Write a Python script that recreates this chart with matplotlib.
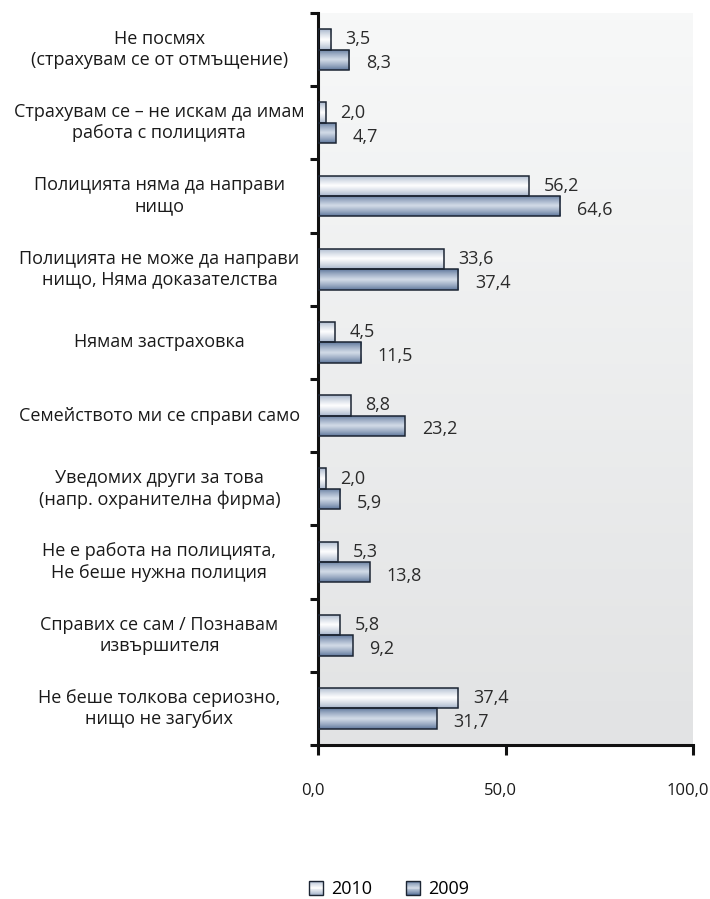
import numpy as np
import matplotlib
matplotlib.use("Agg")
import matplotlib.pyplot as plt
import matplotlib.transforms as mtransforms
from matplotlib.patches import Patch, Rectangle
from matplotlib.legend_handler import HandlerBase

plt.rcParams['font.family'] = ['Open Sans', 'DejaVu Sans']

categories = [
    "Не посмях\n(страхувам се от отмъщение)",
    "Страхувам се – не искам да имам\nработа с полицията",
    "Полицията няма да направи\nнищо",
    "Полицията не може да направи\nнищо, Няма доказателства",
    "Нямам застраховка",
    "Семейството ми се справи само",
    "Уведомих други за това\n(напр. охранителна фирма)",
    "Не е работа на полицията,\nНе беше нужна полиция",
    "Справих се сам / Познавам\nизвършителя",
    "Не беше толкова сериозно,\nнищо не загубих",
]
values_2010 = [3.5, 2.0, 56.2, 33.6, 4.5, 8.8, 2.0, 5.3, 5.8, 37.4]
values_2009 = [8.3, 4.7, 64.6, 37.4, 11.5, 23.2, 5.9, 13.8, 9.2, 31.7]
series_labels = ["2010", "2009"]
x_ticks = [0, 50, 100]

# gradient colours (edge, middle) per series
grad_2010 = ("#a3b2c9", "#ffffff")
grad_2009 = ("#5a7399", "#d3dce8")
edge_col = "#1c2533"
FS = 13


def fmt(v):
    return f"{v:.1f}".replace(".", ",")


def grad_colors(c_edge, c_mid, n=64):
    t = np.linspace(0, 1, n)
    k = (1 - np.abs(t - 0.5) * 2) ** 0.8
    ce = np.array(matplotlib.colors.to_rgb(c_edge))
    cm = np.array(matplotlib.colors.to_rgb(c_mid))
    return ce[None, :] + (cm - ce)[None, :] * k[:, None]


def gradient_fill(ax, patch, c_edge, c_mid):
    # vertical gradient inside a bar, clipped to the bar shape
    x0, y0, w, h = patch.get_x(), patch.get_y(), patch.get_width(), patch.get_height()
    img = grad_colors(c_edge, c_mid)[:, None, :]
    im = ax.imshow(img, extent=[x0, x0 + w, y0, y0 + h], aspect='auto',
                   zorder=2, interpolation='bicubic', origin='lower')
    im.set_clip_path(patch)


class GradientHandler(HandlerBase):
    def __init__(self, colors):
        super().__init__()
        self.colors = colors

    def create_artists(self, legend, orig_handle, xdescent, ydescent,
                       width, height, fontsize, trans):
        cols = grad_colors(*self.colors, n=16)
        arts = []
        n = len(cols)
        for i, c in enumerate(cols):
            arts.append(Rectangle((-xdescent, -ydescent + height * i / n), width,
                                  height / n + 0.05, facecolor=c, edgecolor='none',
                                  transform=trans))
        arts.append(Rectangle((-xdescent, -ydescent), width, height, facecolor='none',
                              edgecolor=edge_col, linewidth=1.0, transform=trans))
        return arts


fig = plt.figure(figsize=(7.1, 8.99), dpi=100)
ax = fig.add_axes([318 / 710, 1 - 745 / 899, 375 / 710, 732 / 899])

n = len(categories)
y = np.arange(n)
h = 0.28

# background gradient
bg = np.linspace(0, 1, 100)[:, None]
bg_cmap = matplotlib.colors.LinearSegmentedColormap.from_list("bg", ["#f7f8f8", "#e2e3e4"])
ax.imshow(bg, extent=[0, 1, 0, 1], transform=ax.transAxes, cmap=bg_cmap,
          aspect='auto', zorder=0)

bars10 = ax.barh(y - h / 2, values_2010, height=h, color="none",
                 edgecolor=edge_col, linewidth=1.1, zorder=3)
bars09 = ax.barh(y + h / 2, values_2009, height=h, color="none",
                 edgecolor=edge_col, linewidth=1.1, zorder=3)
for b in bars10:
    gradient_fill(ax, b, *grad_2010)
for b in bars09:
    gradient_fill(ax, b, *grad_2009)

for yi, v in zip(y, values_2010):
    ax.annotate(fmt(v), (v, yi - h / 2), xytext=(10.5, 0), textcoords='offset points',
                va='center', ha='left', fontsize=FS, color="#2b2b2b", zorder=4)
for yi, v in zip(y, values_2009):
    ax.annotate(fmt(v), (v, yi + h / 2), xytext=(12, -2.5), textcoords='offset points',
                va='center', ha='left', fontsize=FS, color="#2b2b2b", zorder=4)

ax.set_xlim(0, 100)
ax.set_ylim(n - 0.5, -0.5)

# category labels, centred left of the axis
trans = mtransforms.blended_transform_factory(ax.transAxes, ax.transData)
for yi, lab in zip(y, categories):
    ax.text(-0.423, yi, lab, transform=trans, ha='center', va='center',
            fontsize=FS, color="#1a1a1a", linespacing=1.22)

ax.set_yticks(np.arange(n + 1) - 0.5)
ax.set_yticklabels([])
ax.tick_params(axis='y', length=6, width=2.2, direction='out', color='#111111')
ax.set_xticks(x_ticks)
ax.set_xticklabels([fmt(v) for v in x_ticks], fontsize=12, color="#1a1a1a")
ax.tick_params(axis='x', length=7.2, width=2.2, direction='out', pad=20, color='#111111')
shift = mtransforms.ScaledTranslation(-5 / 100, 0, fig.dpi_scale_trans)
for lbl in ax.get_xticklabels():
    lbl.set_transform(lbl.get_transform() + shift)

for s in ['top', 'right']:
    ax.spines[s].set_visible(False)
for s in ['left', 'bottom']:
    ax.spines[s].set_linewidth(2.2)
    ax.spines[s].set_color('#111111')

handles = [Patch(), Patch()]
fig.legend(handles, series_labels, loc='center', bbox_to_anchor=(389 / 710, 1 - 889 / 899),
           ncol=2, frameon=False, fontsize=FS, handlelength=0.78, handleheight=0.78,
           handletextpad=0.45, columnspacing=1.9, borderpad=0.2,
           handler_map={handles[0]: GradientHandler(grad_2010),
                        handles[1]: GradientHandler(grad_2009)})

fig.savefig("out.png", dpi=100)
